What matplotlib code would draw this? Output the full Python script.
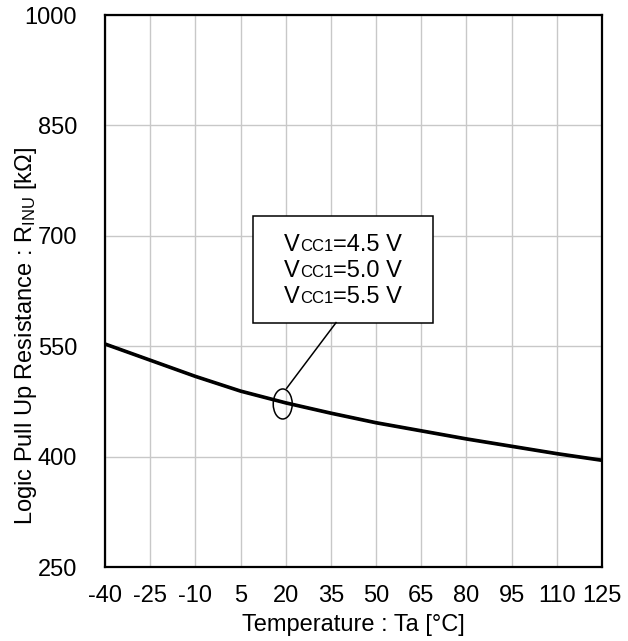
import matplotlib
matplotlib.use("Agg")
import matplotlib.pyplot as plt
from matplotlib.patches import Ellipse, Rectangle
from matplotlib.offsetbox import TextArea, HPacker, VPacker, AnnotationBbox

plt.rcParams["font.family"] = ["Liberation Sans", "DejaVu Sans"]
plt.rcParams["mathtext.fontset"] = "custom"
plt.rcParams["mathtext.rm"] = "Liberation Sans"
plt.rcParams["mathtext.default"] = "regular"
plt.rcParams["axes.unicode_minus"] = False

# temperature points (°C) and pull-up resistance (kΩ) per supply voltage
temp = [-40, -25, -10, 5, 20, 35, 50, 65, 80, 95, 110, 125]
r_45v = [554, 532, 510, 490, 474, 460, 447, 436, 425, 415, 405, 396]
r_50v = [553, 531, 509, 489, 473, 459, 446, 435, 424, 414, 404, 395]
r_55v = [552, 530, 508, 488, 472, 458, 445, 434, 423, 413, 403, 394]
vcc_labels = ["4.5", "5.0", "5.5"]

x_ticks = list(range(-40, 126, 15))
y_ticks = [250, 400, 550, 700, 850, 1000]

FS = 17

fig = plt.figure(figsize=(6.28, 6.41), dpi=100)
ax = fig.add_axes([105 / 628, 74 / 641, 497 / 628, 552 / 641])

for r in (r_45v, r_50v, r_55v):
    ax.plot(temp, r, color="black", linewidth=1.6, zorder=3,
            solid_joinstyle="round")

ax.set_xlim(-40, 125)
ax.set_ylim(250, 1000)
ax.set_xticks(x_ticks)
ax.set_yticks(y_ticks)
ax.grid(True, color="#c8c8c8", linewidth=1.0)
ax.set_axisbelow(True)
ax.tick_params(length=0, labelsize=FS)
ax.tick_params(axis="y", pad=20)
ax.tick_params(axis="x", pad=13)
for s in ax.spines.values():
    s.set_linewidth(1.6)
    s.set_zorder(4)

ax.set_xlabel("Temperature : Ta [°C]", fontsize=FS, labelpad=5)
ax.set_ylabel("Logic Pull Up Resistance : R$_{INU}$ [kΩ]", fontsize=FS)
# label in the original sits lower than the axis centre
ax.yaxis.set_label_coords(-0.133, 0.418)

# callout box
ax.add_patch(Rectangle((9.2, 582), 59.8, 145, facecolor="white",
                       edgecolor="black", linewidth=1.1, zorder=5))
lines = []
for v in vcc_labels:
    lines.append(HPacker(children=[
        TextArea("V", textprops=dict(fontsize=FS)),
        TextArea("CC1", textprops=dict(fontsize=12)),
        TextArea(f"={v} V", textprops=dict(fontsize=FS)),
    ], align="baseline", pad=0, sep=0))
box = VPacker(children=lines, align="center", pad=0, sep=3)
ab = AnnotationBbox(box, (39.1, 652), xycoords="data", frameon=False,
                    box_alignment=(0.5, 0.5), zorder=6)
ax.add_artist(ab)

ax.plot([20.3, 36.7], [492.8, 582], color="black", linewidth=1.1, zorder=5)
ax.add_patch(Ellipse((19.0, 471.5), 6.3, 40.8, facecolor="none",
                     edgecolor="black", linewidth=1.1, zorder=5))

fig.savefig("out.png", dpi=100)
